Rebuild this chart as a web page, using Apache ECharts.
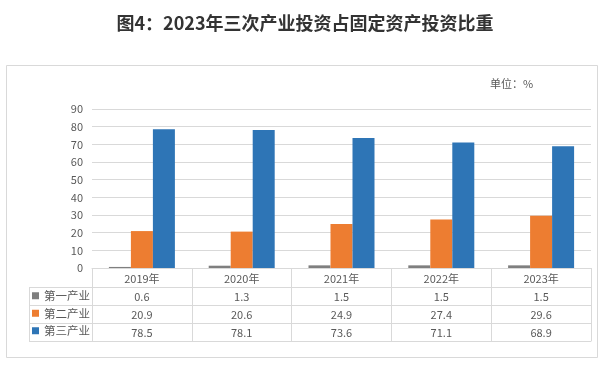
<!DOCTYPE html>
<html>
<head>
<meta charset="utf-8">
<script src="https://cdn.jsdelivr.net/npm/echarts@6/dist/echarts.min.js"></script>
<style>
html,body{margin:0;padding:0;background:#fff;}
#c{width:610px;height:372px;}
</style>
</head>
<body>
<div id="c"></div>
<script>
var categories = ['2019年', '2020年', '2021年', '2022年', '2023年'];
var seriesNames = ['第一产业', '第二产业', '第三产业'];
var primary = [0.6, 1.3, 1.5, 1.5, 1.5];
var secondary = [20.9, 20.6, 24.9, 27.4, 29.6];
var tertiary = [78.5, 78.1, 73.6, 71.1, 68.9];
var yTicks = [0, 10, 20, 30, 40, 50, 60, 70, 80, 90];

var colors = ['#7f7f7f', '#ed7d31', '#2e75b6'];
var FONT = '"Noto Sans CJK SC", "Noto Sans", sans-serif';
var lineColor = '#d9d9d9';
var textColor = '#595959';

var chart = echarts.init(document.getElementById('c'), null, {renderer: 'canvas'});

function rowAxis(values, offset, showTicks) {
  return {
    type: 'category',
    gridIndex: 0,
    position: 'bottom',
    offset: offset,
    data: values,
    axisLine: {show: true, lineStyle: {color: lineColor, width: 1}},
    axisTick: {show: showTicks, length: 18, interval: 0, lineStyle: {color: lineColor}},
    axisLabel: {show: true, interval: 0, margin: 4, fontSize: 11, color: textColor, fontFamily: FONT},
    splitLine: {show: false}
  };
}

var valueRows = [primary, secondary, tertiary];
var xAxes = [{
  type: 'category',
  gridIndex: 0,
  position: 'bottom',
  data: categories,
  axisLine: {show: true, lineStyle: {color: lineColor, width: 1}},
  axisTick: {show: true, length: 19, interval: 0, lineStyle: {color: lineColor}},
  axisLabel: {interval: 0, margin: 5, fontSize: 11, color: textColor, fontFamily: FONT},
  splitLine: {show: false}
}];
valueRows.forEach(function (row, i) {
  xAxes.push(rowAxis(row.map(function (v) { return v.toFixed(1); }), 19 + i * 18, true));
});
xAxes.push(rowAxis(categories.map(function () { return ''; }), 19 + 3 * 18, false));

var seriesData = [primary, secondary, tertiary];

var leftX = 29, gridLeft = 92;
var rowYs = [287, 305, 323, 341];
var graphics = [
  {type: 'rect', shape: {x: 6.5, y: 65.5, width: 591, height: 292}, style: {fill: 'none', stroke: lineColor, lineWidth: 1}, silent: true},
  {type: 'text', left: 490, top: 78, style: {text: '单位：%', fill: textColor, font: '11px ' + FONT}, silent: true},
  {type: 'line', shape: {x1: leftX + 0.5, y1: rowYs[0], x2: leftX + 0.5, y2: rowYs[3]}, style: {stroke: lineColor, lineWidth: 1}, silent: true}
];
rowYs.forEach(function (y) {
  graphics.push({type: 'line', shape: {x1: leftX, y1: y + 0.5, x2: gridLeft, y2: y + 0.5}, style: {stroke: lineColor, lineWidth: 1}, silent: true});
});

chart.setOption({
  backgroundColor: '#ffffff',
  animation: false,
  color: colors,
  title: {
    text: '图4：2023年三次产业投资占固定资产投资比重',
    left: 'center',
    top: 9,
    textStyle: {fontSize: 18, fontWeight: 'bold', color: '#333333', fontFamily: FONT}
  },
  legend: {
    show: true,
    orient: 'vertical',
    left: 32,
    top: 290,
    padding: 0,
    itemWidth: 7,
    itemHeight: 7,
    itemGap: 6,
    icon: 'rect',
    selectedMode: false,
    data: seriesNames,
    textStyle: {fontSize: 11.5, color: textColor, fontFamily: FONT}
  },
  grid: {left: gridLeft, right: 19, top: 109, bottom: 104, containLabel: false},
  xAxis: xAxes,
  yAxis: {
    type: 'value',
    min: yTicks[0],
    max: yTicks[yTicks.length - 1],
    interval: yTicks[1] - yTicks[0],
    axisLine: {show: false},
    axisTick: {show: false},
    axisLabel: {margin: 9, fontSize: 11, color: textColor, fontFamily: FONT},
    splitLine: {lineStyle: {color: lineColor, width: 1}}
  },
  series: seriesNames.map(function (name, i) {
    return {
      name: name,
      type: 'bar',
      xAxisIndex: 0,
      data: seriesData[i],
      barWidth: 22,
      barGap: '0%',
      itemStyle: {color: colors[i]}
    };
  }),
  graphic: graphics
});
</script>
</body>
</html>
